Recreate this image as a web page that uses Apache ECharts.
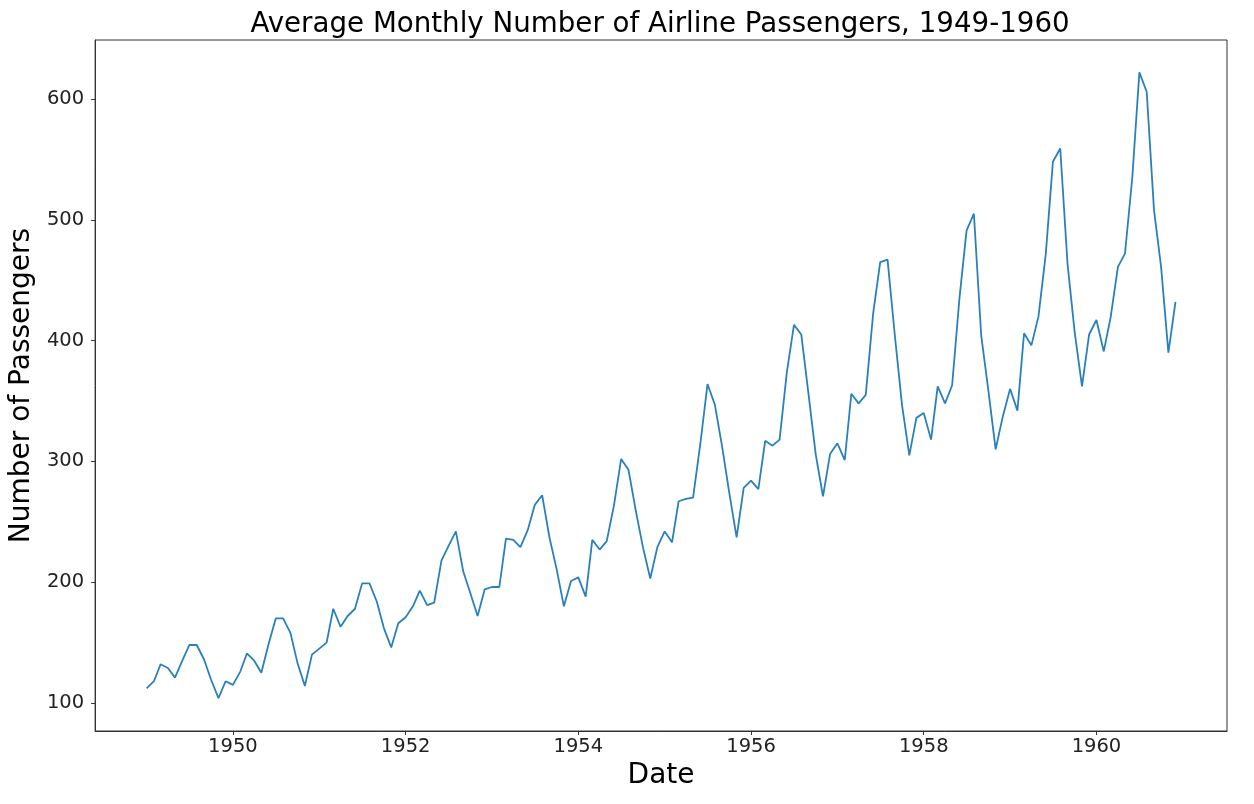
<!DOCTYPE html>
<html><head><meta charset="utf-8">
<script src="https://cdn.jsdelivr.net/npm/echarts@6/dist/echarts.min.js"></script>
<style>html,body{margin:0;padding:0;background:#fff}#c{width:1254px;height:804px}</style>
</head><body><div id="c"></div>
<script>
const startYear = 1949;
const passengers = [
 112,118,132,129,121,135,148,148,136,119,104,118,
 115,126,141,135,125,149,170,170,158,133,114,140,
 145,150,178,163,172,178,199,199,184,162,146,166,
 171,180,193,181,183,218,230,242,209,191,172,194,
 196,196,236,235,229,243,264,272,237,211,180,201,
 204,188,235,227,234,264,302,293,259,229,203,229,
 242,233,267,269,270,315,364,347,312,274,237,278,
 284,277,317,313,318,374,413,405,355,306,271,306,
 315,301,356,348,355,422,465,467,404,347,305,336,
 340,318,362,348,363,435,491,505,404,359,310,337,
 360,342,406,396,420,472,548,559,463,407,362,405,
 417,391,419,461,472,535,622,606,508,461,390,432
];
const xTicks = [1950,1952,1954,1956,1958,1960];
const yTicks = [100,200,300,400,500,600];

function decYear(y, m) {
  const t = Date.UTC(y, m, 1);
  const t0 = Date.UTC(y, 0, 1), t1 = Date.UTC(y + 1, 0, 1);
  return y + (t - t0) / (t1 - t0);
}
const data = passengers.map((v, i) => [decYear(startYear + Math.floor(i / 12), i % 12), v]);

const font = 'DejaVu Sans';
const chart = echarts.init(document.getElementById('c'), null, {renderer: 'canvas'});
chart.setOption({
  backgroundColor: '#fff',
  animation: false,
  title: {
    text: 'Average Monthly Number of Airline Passengers, 1949-1960',
    left: 655, top: 6, textAlign: 'center',
    textStyle: {fontFamily: font, fontSize: 27.7, fontWeight: 'normal', color: '#000'}
  },
  grid: {left: 95, right: 27, top: 40, bottom: 73, show: true, borderColor: '#333', borderWidth: 1, backgroundColor: 'transparent'},
  xAxis: {
    type: 'value', min: 1948.404, max: 1961.512,
    name: 'Date', nameLocation: 'middle', nameGap: 29,
    nameTextStyle: {fontFamily: font, fontSize: 28, color: '#000'},
    splitLine: {show: false},
    axisLine: {show: true, lineStyle: {color: '#333'}},
    axisTick: {show: true, length: 4, lineStyle: {color: '#333'}, customValues: xTicks},
    axisLabel: {fontFamily: font, fontSize: 19.5, color: '#222', margin: 6, customValues: xTicks, formatter: v => String(v)}
  },
  yAxis: {
    type: 'value', min: 76.8, max: 648.8,
    name: 'Number of Passengers', nameLocation: 'middle', nameGap: 51, nameRotate: 90,
    nameTextStyle: {fontFamily: font, fontSize: 28, color: '#000'},
    splitLine: {show: false},
    axisLine: {show: true, lineStyle: {color: '#333'}},
    axisTick: {show: true, length: 4, lineStyle: {color: '#333'}, customValues: yTicks},
    axisLabel: {fontFamily: font, fontSize: 19.5, color: '#222', margin: 11, customValues: yTicks, formatter: v => String(v)}
  },
  series: [{
    type: 'line', data: data, showSymbol: false, symbol: 'none',
    lineStyle: {color: '#2a80bd', width: 1.8}
  }]
});
</script></body></html>
